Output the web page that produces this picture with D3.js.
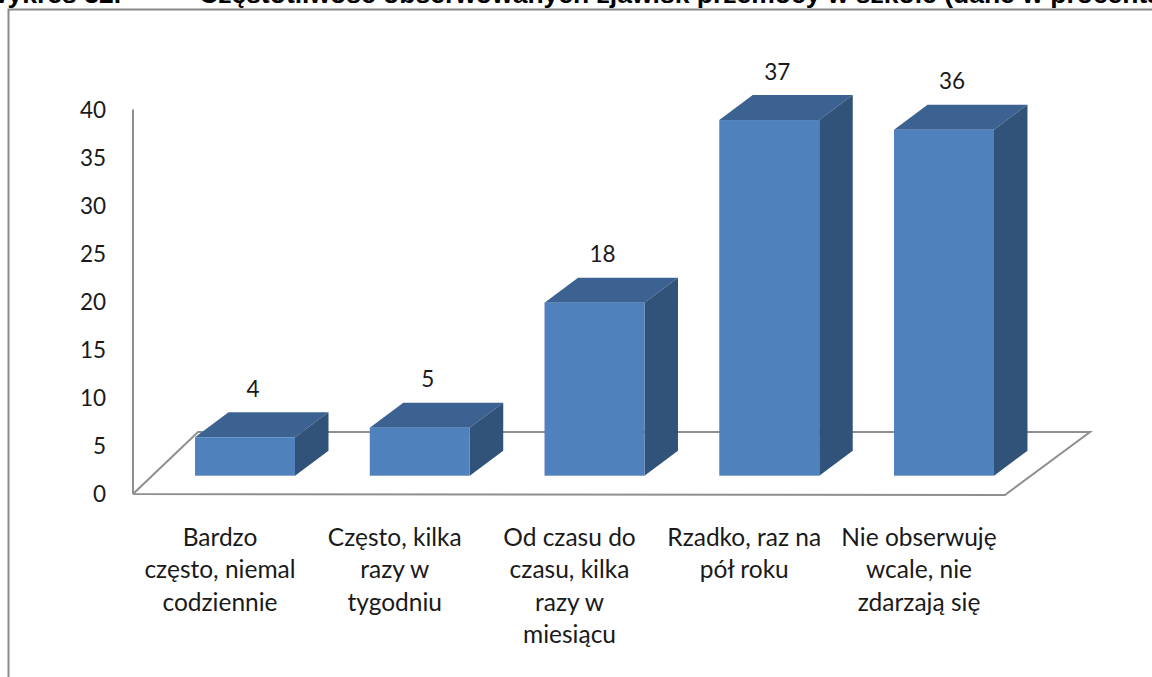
<!DOCTYPE html>
<html><head><meta charset="utf-8">
<script src="https://cdn.jsdelivr.net/npm/d3@7"></script>
<style>html,body{margin:0;padding:0;background:#fff;overflow:hidden}svg{display:block}</style>
</head><body><div id="c"></div>
<script>
const categories = ["Bardzo często, niemal codziennie","Często, kilka razy w tygodniu","Od czasu do czasu, kilka razy w miesiącu","Rzadko, raz na pół roku","Nie obserwuję wcale, nie zdarzają się"];
const categoryLines = [["Bardzo","często, niemal","codziennie"],["Często, kilka","razy w","tygodniu"],["Od czasu do","czasu, kilka","razy w","miesiącu"],["Rzadko, raz na","pół roku"],["Nie obserwuję","wcale, nie","zdarzają się"]];
const values = [4,5,18,37,36];
const ticks = [0,5,10,15,20,25,30,35,40];
const titleLeft = "Wykres 32.";
const titleMain = "Częstotliwość obserwowanych zjawisk przemocy w szkole (dane w procentach)";

const W=1152,H=677;
const svg=d3.select("#c").append("svg").attr("width",W).attr("height",H);
const font="Lato, Carlito, sans-serif";
const y=d3.scaleLinear().domain([0,40]).range([494,109.5]);
const x=d3.scaleBand().domain(categories).range([158.5,1030.5]).paddingInner(0.428).paddingOuter(0.209);
const depthX=33.5, depthY=-25, baseLift=18.3;
const grey="#8f8f8f";

svg.append("text").attr("x",-17).attr("y",3).attr("font-family","Liberation Sans").attr("font-weight",700).attr("font-size",26.5).attr("fill","#000").text(titleLeft);
svg.append("text").attr("x",199).attr("y",3).attr("font-family","Liberation Sans").attr("font-weight",700).attr("font-size",26.5).attr("fill","#000").text(titleMain);
svg.append("path").attr("d","M8.5 677 V9.5 H1152").attr("fill","none").attr("stroke","#8a8a8a").attr("stroke-width",2);

const floor=[[133,494],[1005,495],[1090,432],[198,432],[133,494]];
svg.append("path").attr("d",d3.line()(floor)).attr("fill","none").attr("stroke",grey).attr("stroke-width",2);
svg.append("line").attr("x1",133).attr("x2",133).attr("y1",y(40)).attr("y2",y(0)).attr("stroke",grey).attr("stroke-width",2);

svg.append("g").selectAll("text").data(ticks).join("text")
  .attr("x",106).attr("y",d=>y(d)+8).attr("text-anchor","end")
  .attr("font-family",font).attr("font-size",22.5).attr("fill","#1a1a1a").text(d=>d);

const g=svg.append("g").selectAll("g").data(categories.map((c,i)=>({c,v:values[i],lines:categoryLines[i]}))).join("g");
const base=y(0)-baseLift;
const barTop=d=>base-(y(0)-y(d.v));
g.append("path").attr("fill","#3c6291").attr("d",d=>{const l=x(d.c),r=l+x.bandwidth(),t=barTop(d);return `M${l} ${t}L${r} ${t}L${r+depthX} ${t+depthY}L${l+depthX} ${t+depthY}Z`;});
g.append("path").attr("fill","#315279").attr("d",d=>{const r=x(d.c)+x.bandwidth(),t=barTop(d);return `M${r} ${t}L${r+depthX} ${t+depthY}L${r+depthX} ${base+depthY}L${r} ${base}Z`;});
g.append("rect").attr("fill","#4f81bd").attr("x",d=>x(d.c)).attr("y",d=>barTop(d)).attr("width",x.bandwidth()).attr("height",d=>base-barTop(d));
g.append("text").attr("x",d=>x(d.c)+x.bandwidth()/2+8).attr("y",d=>barTop(d)+depthY-15.5)
  .attr("text-anchor","middle").attr("font-family",font).attr("font-size",22.5).attr("fill","#1a1a1a").text(d=>d.v);
g.each(function(d){
  d3.select(this).selectAll("text.cat").data(d.lines).join("text").attr("class","cat")
   .attr("x",x(d.c)+x.bandwidth()/2-25).attr("y",(_,i)=>545.5+i*32.5)
   .attr("text-anchor","middle").attr("font-family",font).attr("font-size",24.5).attr("fill","#1a1a1a").text(t=>t);
});
</script></body></html>
